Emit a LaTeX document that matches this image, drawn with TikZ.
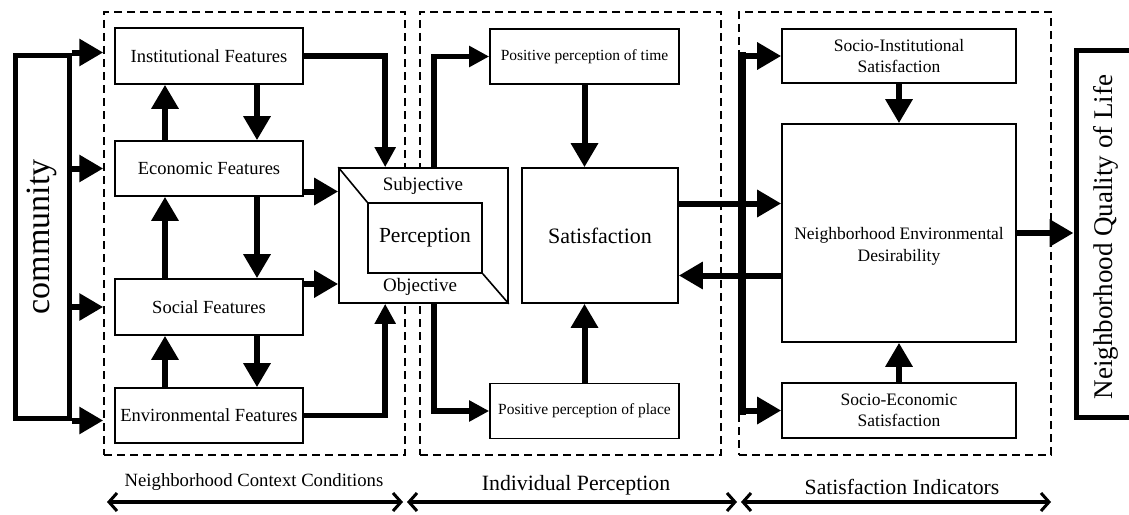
\documentclass[tikz,border=0pt]{standalone}
\usepackage{fontspec}
\setmainfont{Liberation Serif}
\usetikzlibrary{arrows.meta,calc}
\newcommand\myfs[2]{\fontsize{#1}{#2}\selectfont}
\begin{document}
\begin{tikzpicture}[x=1pt,y=-1pt,
  box/.style={draw,fill=white,line width=1.6pt,inner sep=0pt,align=center},
  dbox/.style={draw,line width=1.5pt,dash pattern=on 8pt off 5pt,inner sep=0pt},
  bigarrow/.style={line width=6pt,-{Triangle[width=26pt,length=24pt]}},
  midarrow/.style={line width=5.5pt,-{Triangle[width=20pt,length=20pt]}},
  dbl/.style={line width=3.2pt,{Straight Barb[length=8pt,width=18pt,line width=3pt]}-{Straight Barb[length=8pt,width=18pt,line width=3pt]}},
  feat/.style={box,minimum width=188pt,font=\myfs{18.5}{22}},
  sbox/.style={box,minimum width=234pt,font=\myfs{17.5}{21}},
  pbox/.style={box,minimum width=189pt,minimum height=55pt,font=\myfs{15.5}{18}},
  ]
\useasboundingbox (0,0) rectangle (1129,514);

% dashed group frames
\node[dbox,minimum width=301pt,minimum height=443pt] (ctx) at (254.5,233.5) {};
\node[dbox,minimum width=301pt,minimum height=443pt] (ind) at (570.5,233.5) {};
\node[dbox,minimum width=312pt,minimum height=443pt] (sati) at (895,233.5) {};

% community
\node[draw,fill=white,line width=5pt,minimum width=54pt,minimum height=363pt,inner sep=0pt] (comm) at (42,236.5) {};
\node[rotate=90,font=\myfs{34}{40}] (commtxt) at (42,237) {community};

% feature boxes
\node[feat,minimum height=56pt] (inst) at (209,56) {Institutional Features};
\node[feat,minimum height=55pt] (econ) at (209,168.5) {Economic Features};
\node[feat,minimum height=56pt] (soc) at (209,307) {Social Features};
\node[feat,minimum height=55pt] (env) at (209,415.5) {Environmental Features};

% perception
\node[box,minimum width=169pt,minimum height=135pt] (perc) at (423.5,235.5) {};
\node[box,minimum width=114pt,minimum height=70pt,font=\myfs{21.5}{26}] (percin) at (425,238) {Perception};
\draw[line width=1.6pt] (perc.north west) -- (percin.north west);
\draw[line width=1.6pt] (perc.south east) -- (percin.south east);
\node[font=\myfs{19}{22}] (subj) at (423,186) {Subjective};
\node[font=\myfs{19}{22}] (obj) at (420,287) {Objective};

% individual perception
\node[pbox] (time) at (584.5,56.5) {Positive perception of time};
\node[pbox] (place) at (584.5,411) {Positive perception of place};
\node[box,minimum width=156pt,minimum height=135pt,font=\myfs{22}{26}] (sat) at (600,235.5) {Satisfaction};

% satisfaction indicators
\node[sbox,minimum height=54pt] (socinst) at (899,56) {Socio-Institutional\\Satisfaction};
\node[sbox,minimum height=218pt] (ned) at (899,233) {};
\node[font=\myfs{17.5}{22},align=center] (nedtxt) at (899,246) {Neighborhood Environmental\\Desirability};
\node[sbox,minimum height=55pt] (socecon) at (899,410.5) {Socio-Economic\\Satisfaction};

% quality of life
\node[draw,fill=white,line width=5pt,minimum width=60pt,minimum height=367pt,inner sep=0pt] (qol) at (1106,233.5) {};
\node[rotate=90,font=\myfs{27}{32}] (qoltxt) at (1106,237) {Neighborhood Quality of Life};

% community arrows
\draw[bigarrow] (comm.north east) -- (ctx.west |- comm.north east);
\draw[bigarrow] (comm.east |- econ) -- (ctx.west |- econ);
\draw[bigarrow] (comm.east |- soc) -- (ctx.west |- soc);
\draw[bigarrow] (comm.south east) -- (ctx.west |- comm.south east);

% feature verticals
\draw[bigarrow] ($(econ.north)+(-44,0)$) -- ($(inst.south)+(-44,0)$);
\draw[bigarrow] ($(inst.south)+(48,0)$) -- ($(econ.north)+(48,0)$);
\draw[bigarrow] ($(soc.north)+(-44,0)$) -- ($(econ.south)+(-44,0)$);
\draw[bigarrow] ($(econ.south)+(48,0)$) -- ($(soc.north)+(48,0)$);
\draw[bigarrow] ($(env.north)+(-44,0)$) -- ($(soc.south)+(-44,0)$);
\draw[bigarrow] ($(soc.south)+(48,0)$) -- ($(env.north)+(48,0)$);

% features to perception
\draw[midarrow] (inst.east) -| ($(perc.north west)+(47,0)$);
\draw[bigarrow] ($(econ.east)+(0,23)$) -- (perc.west |- {$(econ.east)+(0,23)$});
\draw[bigarrow] ($(soc.east)+(0,-23)$) -- (perc.west |- {$(soc.east)+(0,-23)$});
\draw[midarrow] (env.east) -| ($(perc.south west)+(47,0)$);

% perception to time / place
\draw[midarrow] ($(perc.north west)+(96,0)$) |- (time.west);
\draw[midarrow] ($(perc.south west)+(96,0)$) |- (place.west);

% time / place to satisfaction
\draw[bigarrow] (time.south) -- (time.south |- sat.north);
\draw[bigarrow] (place.north) -- (place.north |- sat.south);

% satisfaction <-> NED
\draw[bigarrow] ($(sat.east)+(0,-32)$) -- (ned.west |- {$(sat.east)+(0,-32)$});
\draw[bigarrow] (ned.west |- {$(sat.east)+(0,40)$}) -- ($(sat.east)+(0,40)$);

% bus to socio boxes
\coordinate (bustop) at (742,56);
\coordinate (busbot) at (742,410.5);
\draw[line width=8pt,line cap=rect] (bustop) -- (busbot);
\draw[bigarrow] (bustop) -- (socinst.west);
\draw[bigarrow] (busbot) -- (socecon.west);

% socio boxes to NED
\draw[bigarrow] (socinst.south) -- (ned.north);
\draw[bigarrow] (socecon.north) -- (ned.south);

% NED to QoL
\draw[bigarrow] (ned.east) -- (qol.west |- ned.east);

% bottom labels
\node[font=\myfs{18.7}{22}] (lab1) at (254,482) {Neighborhood Context Conditions};
\node[font=\myfs{21.8}{26}] (lab2) at (576,485) {Individual Perception};
\node[font=\myfs{21.7}{26}] (lab3) at (902,487) {Satisfaction Indicators};
\coordinate (a1) at (107,502);
\coordinate (a2) at (403,502);
\coordinate (a3) at (407,502);
\coordinate (a4) at (737,502);
\coordinate (a5) at (741,502);
\coordinate (a6) at (1051,502);
\draw[dbl] (a1) -- (a2);
\draw[dbl] (a3) -- (a4);
\draw[dbl] (a5) -- (a6);
\end{tikzpicture}
\end{document}
